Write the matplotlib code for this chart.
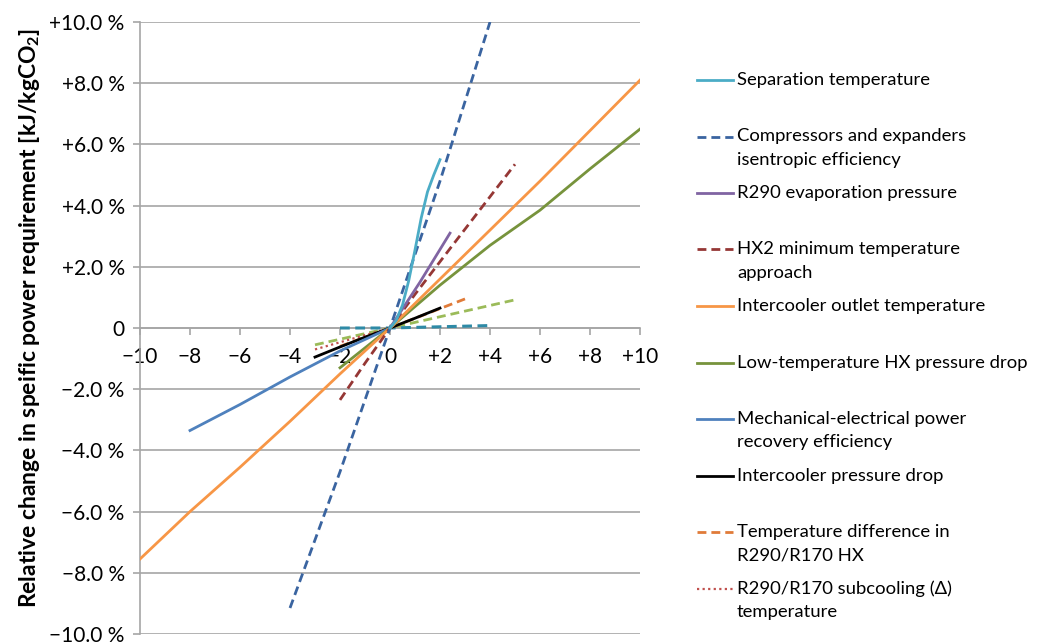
import matplotlib
matplotlib.use("Agg")
import matplotlib.pyplot as plt
from matplotlib.lines import Line2D

plt.rcParams['font.family'] = ['Lato', 'DejaVu Sans']

# ---- data ----
sep_x = [0, 0.25, 0.5, 0.75, 1.0, 1.25, 1.5, 1.75, 2.0]
sep_y = [0, 0.25, 0.75, 1.55, 2.55, 3.6, 4.45, 5.0, 5.5]

comp_x = [-4, -2, 0, 2, 4]
comp_y = [-9.15, -4.7, 0, 4.8, 10.0]

r290_x = [0, 1.2, 2.4]
r290_y = [0, 1.5, 3.1]

hx2_x = [-2, -1, 0, 1, 2.5, 5]
hx2_y = [-2.35, -1.15, 0, 1.1, 2.7, 5.35]

ico_x = [-10, -8, -6, -4, -2, 0, 2, 4, 6, 8, 10]
ico_y = [-7.55, -6.0, -4.55, -3.05, -1.5, 0, 1.6, 3.2, 4.8, 6.45, 8.1]

lthx_x = [-2, 0, 2, 4, 6, 8, 10]
lthx_y = [-1.3, 0, 1.4, 2.7, 3.85, 5.2, 6.5]

mech_x = [-8, -6, -4, -2, 0]
mech_y = [-3.35, -2.5, -1.6, -0.75, 0]

icpd_x = [-3, -2, -1, 0, 1, 2]
icpd_y = [-0.95, -0.62, -0.3, 0, 0.32, 0.65]

tdiff_x = [-2, 0, 3]
tdiff_y = [-0.6, 0, 0.95]

subc_x = [-3, 0]
subc_y = [-0.7, 0]

extra_green_x = [-3, 0, 5]
extra_green_y = [-0.55, 0, 0.92]

extra_teal_x = [-2, 0, 2, 4]
extra_teal_y = [0.0, 0.0, 0.04, 0.08]

labels = [
    "Separation temperature",
    "Compressors and expanders\nisentropic efficiency",
    "R290 evaporation pressure",
    "HX2 minimum temperature\napproach",
    "Intercooler outlet temperature",
    "Low-temperature HX pressure drop",
    "Mechanical-electrical power\nrecovery efficiency",
    "Intercooler pressure drop",
    "Temperature difference in\nR290/R170 HX",
    "R290/R170 subcooling (\u0394)\ntemperature",
]

x_ticks = [-10, -8, -6, -4, -2, 0, 2, 4, 6, 8, 10]
x_ticklabels = ["\u221210", "\u22128", "\u22126", "\u22124", "\u22122", "0",
                "+2", "+4", "+6", "+8", "+10"]
y_ticks = [-10, -8, -6, -4, -2, 0, 2, 4, 6, 8, 10]
y_ticklabels = ["\u221210.0 %", "\u22128.0 %", "\u22126.0 %", "\u22124.0 %", "\u22122.0 %", "0",
                "+2.0 %", "+4.0 %", "+6.0 %", "+8.0 %", "+10.0 %"]

# ---- styles ----
DASH = (0, (3.2, 1.8))
series = [
    (sep_x, sep_y, '#4BACC6', '-', 2.0),
    (comp_x, comp_y, '#3A64A0', DASH, 2.0),
    (r290_x, r290_y, '#8064A2', '-', 2.0),
    (hx2_x, hx2_y, '#953735', DASH, 2.0),
    (ico_x, ico_y, '#F79646', '-', 2.0),
    (lthx_x, lthx_y, '#77933C', '-', 2.0),
    (mech_x, mech_y, '#4F81BD', '-', 2.0),
    (icpd_x, icpd_y, '#000000', '-', 2.0),
    (tdiff_x, tdiff_y, '#E07B39', DASH, 2.0),
    (subc_x, subc_y, '#C0504D', (0, (1, 1.5)), 1.6),
]
extras = [
    (extra_green_x, extra_green_y, '#9BBB59', DASH, 2.0),
    (extra_teal_x, extra_teal_y, '#2E8AA6', DASH, 2.2),
]

W, H = 1037, 643
fig = plt.figure(figsize=(W / 100, H / 100), dpi=100)
ax = fig.add_axes([140 / W, 1 - 634 / H, 500 / W, 612 / H])
ax.set_axisbelow(True)

grid_c = '#A6A6A6'
for yv in y_ticks:
    ax.axhline(yv, color=grid_c, lw=1.2, zorder=0)

for xs, ys, c, ls, lw in extras:
    ax.plot(xs, ys, color=c, linestyle=ls, lw=lw, zorder=4)
for xs, ys, c, ls, lw in reversed(series):
    ax.plot(xs, ys, color=c, linestyle=ls, lw=lw, zorder=5)

ax.set_xlim(-10, 10)
ax.set_ylim(-10, 10)

for s in ['top', 'right']:
    ax.spines[s].set_visible(False)
ax.spines['left'].set_color(grid_c)
ax.spines['left'].set_linewidth(1.2)
ax.spines['bottom'].set_position(('data', 0))
ax.spines['bottom'].set_color(grid_c)
ax.spines['bottom'].set_linewidth(1.2)
ax.spines['bottom'].set_zorder(1)
ax.spines['left'].set_zorder(1)

ax.set_xticks(x_ticks)
ax.set_xticklabels(x_ticklabels)
ax.set_yticks(y_ticks)
ax.set_yticklabels(y_ticklabels)
ax.tick_params(axis='both', colors=grid_c, labelcolor='black', labelsize=15,
               width=1.2, length=5)
ax.tick_params(axis='y', pad=6)
ax.tick_params(axis='x', pad=9)

fig.text(30 / W, 1 - 318 / H,
         "Relative change in speific power requirement [kJ/kgCO$_\\mathregular{2}$]",
         rotation=90, ha='center', va='center', fontsize=16.5, fontweight='bold')

# ---- legend (manual layout) ----
y0, step, lstep = 80, 56.5, 23.5
for i, ((xs, ys, c, ls, lw), lab) in enumerate(zip(series, labels)):
    py = y0 + i * step
    fig.add_artist(Line2D([697 / W, 733 / W], [1 - py / H, 1 - py / H],
                          transform=fig.transFigure, color=c, linestyle=ls, lw=lw))
    for j, part in enumerate(lab.split("\n")):
        fig.text(737 / W, 1 - (py + j * lstep) / H, part, ha='left', va='center',
                 fontsize=13.3)

fig.savefig("out.png", dpi=100)
